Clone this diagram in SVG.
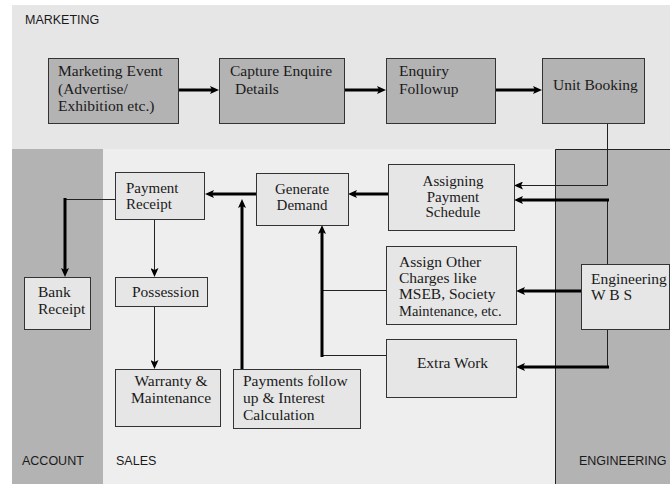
<svg xmlns="http://www.w3.org/2000/svg" width="670" height="484" viewBox="0 0 670 484">
  <defs>
    <marker id="head" viewBox="0 0 9 8" markerWidth="9" markerHeight="8" refX="3" refY="4" orient="auto" markerUnits="userSpaceOnUse">
      <path d="M0,0 L9,4 L0,8 L2,4 z" fill="#000"/>
    </marker>
    <style>
      .lane-label { font-family: "Liberation Sans", Arial, sans-serif; font-size: 12.5px; fill: #1a1a1a; }
      .box-m { fill: #b3b3b3; stroke: #333; stroke-width: 1; }
      .box-s { fill: #e6e6e6; stroke: #333; stroke-width: 1; }
      .txt { font-family: "Liberation Serif", "Times New Roman", serif; font-size: 15.5px; fill: #1a1a1a; }
      .tight { font-size: 15px; }
      .mid { text-anchor: middle; }
      .thick { fill: none; stroke: #000; stroke-width: 3; }
      .thin { fill: none; stroke: #222; stroke-width: 1; }
    </style>
  </defs>

  <rect width="670" height="484" fill="#fff"/>

  <!-- swimlanes -->
  <g id="lanes">
    <rect x="12" y="5" width="658" height="144" fill="#e6e6e6"/>
    <rect x="12" y="149" width="91" height="335" fill="#b3b3b3"/>
    <rect x="103" y="149" width="452" height="335" fill="#eeeeee"/>
    <rect x="555" y="149" width="115" height="335" fill="#b3b3b3"/>
    <path d="M555.5,484 V149.5 H670" fill="none" stroke="#222" stroke-width="1"/>
    <text class="lane-label" x="25" y="24">MARKETING</text>
    <text class="lane-label" x="22" y="465">ACCOUNT</text>
    <text class="lane-label" x="116" y="465">SALES</text>
    <text class="lane-label" x="579" y="465">ENGINEERING</text>
  </g>

  <!-- connectors -->
  <g id="connectors">
    <line class="thick" x1="178" y1="90" x2="213" y2="90" marker-end="url(#head)"/>
    <line class="thick" x1="345" y1="90" x2="380" y2="90" marker-end="url(#head)"/>
    <line class="thick" x1="495" y1="90" x2="536" y2="90" marker-end="url(#head)"/>

    <polyline class="thin" points="607.5,123 607.5,185.5 520,185.5" marker-end="url(#head)"/>
    <line class="thin" x1="607.5" y1="200" x2="607.5" y2="264"/>
    <line class="thick" x1="609" y1="200" x2="520" y2="200" marker-end="url(#head)"/>
    <line class="thick" x1="581" y1="291" x2="522" y2="291" marker-end="url(#head)"/>
    <line class="thin" x1="607.5" y1="329" x2="607.5" y2="367"/>
    <line class="thick" x1="609" y1="367" x2="522" y2="367" marker-end="url(#head)"/>

    <line class="thick" x1="388" y1="194" x2="354" y2="194" marker-end="url(#head)"/>
    <line class="thick" x1="256" y1="194" x2="211" y2="194" marker-end="url(#head)"/>
    <line class="thick" x1="242" y1="369" x2="242" y2="205" marker-end="url(#head)"/>

    <line class="thin" x1="386" y1="290.5" x2="322" y2="290.5"/>
    <line class="thin" x1="386" y1="355.5" x2="322" y2="355.5"/>
    <line class="thick" x1="322" y1="357" x2="322" y2="231" marker-end="url(#head)"/>

    <line class="thin" x1="115" y1="199.5" x2="65" y2="199.5"/>
    <line class="thick" x1="65" y1="198" x2="65" y2="271" marker-end="url(#head)"/>
    <line class="thin" x1="154.5" y1="219" x2="154.5" y2="271" marker-end="url(#head)"/>
    <line class="thin" x1="154.5" y1="306" x2="154.5" y2="363" marker-end="url(#head)"/>
  </g>

  <!-- marketing nodes -->
  <g id="marketing-event">
    <rect class="box-m" x="48.5" y="58.5" width="130" height="65"/>
    <text class="txt" x="58" y="76">Marketing Event</text>
    <text class="txt" x="58" y="93.5">(Advertise/</text>
    <text class="txt" x="58" y="111">Exhibition etc.)</text>
  </g>
  <g id="capture-enquire">
    <rect class="box-m" x="219.5" y="58.5" width="125" height="65"/>
    <text class="txt" x="230" y="76">Capture Enquire</text>
    <text class="txt" x="235" y="93.5">Details</text>
  </g>
  <g id="enquiry-followup">
    <rect class="box-m" x="386.5" y="58.5" width="109" height="65"/>
    <text class="txt" x="399" y="76">Enquiry</text>
    <text class="txt" x="399" y="93.5">Followup</text>
  </g>
  <g id="unit-booking">
    <rect class="box-m" x="542.5" y="58.5" width="102" height="65"/>
    <text class="txt" x="553" y="90">Unit Booking</text>
  </g>

  <!-- sales nodes -->
  <g id="assigning-payment-schedule">
    <rect class="box-s" x="388.5" y="164.5" width="126" height="66"/>
    <text class="txt tight mid" x="453" y="185.5">Assigning</text>
    <text class="txt tight mid" x="453" y="201.5">Payment</text>
    <text class="txt tight mid" x="453" y="217">Schedule</text>
  </g>
  <g id="generate-demand">
    <rect class="box-s" x="256.5" y="173.5" width="92" height="52"/>
    <text class="txt tight mid" x="302" y="193.5">Generate</text>
    <text class="txt tight mid" x="302" y="209.5">Demand</text>
  </g>
  <g id="payment-receipt">
    <rect class="box-s" x="115.5" y="172.5" width="89" height="47"/>
    <text class="txt tight" x="126" y="192.5">Payment</text>
    <text class="txt tight" x="126" y="208.5">Receipt</text>
  </g>
  <g id="possession">
    <rect class="box-s" x="115.5" y="277.5" width="92" height="29"/>
    <text class="txt" x="132" y="297">Possession</text>
  </g>
  <g id="warranty-maintenance">
    <rect class="box-s" x="115.5" y="369.5" width="105" height="57"/>
    <text class="txt mid" x="171" y="386">Warranty &amp;</text>
    <text class="txt mid" x="171" y="403">Maintenance</text>
  </g>
  <g id="payments-followup">
    <rect class="box-s" x="233.5" y="369.5" width="127" height="59"/>
    <text class="txt" x="243" y="386">Payments follow</text>
    <text class="txt" x="243" y="403">up &amp; Interest</text>
    <text class="txt" x="243" y="420">Calculation</text>
  </g>
  <g id="assign-other-charges">
    <rect class="box-s" x="386.5" y="246.5" width="130" height="78"/>
    <text class="txt" x="399" y="267">Assign Other</text>
    <text class="txt" x="399" y="283">Charges like</text>
    <text class="txt" x="399" y="299">MSEB, Society</text>
    <text class="txt" x="399" y="316" style="font-size:14.5px">Maintenance, etc.</text>
  </g>
  <g id="extra-work">
    <rect class="box-s" x="386.5" y="339.5" width="130" height="58"/>
    <text class="txt mid" x="452.5" y="368">Extra Work</text>
  </g>

  <!-- account node -->
  <g id="bank-receipt">
    <rect class="box-s" x="24.5" y="277.5" width="66" height="52"/>
    <text class="txt" x="38" y="297">Bank</text>
    <text class="txt" x="38" y="314">Receipt</text>
  </g>

  <!-- engineering node -->
  <g id="engineering-wbs">
    <rect class="box-s" x="581.5" y="264.5" width="88" height="65"/>
    <text class="txt" x="591" y="284">Engineering</text>
    <text class="txt" x="591" y="300">W B S</text>
  </g>
</svg>
